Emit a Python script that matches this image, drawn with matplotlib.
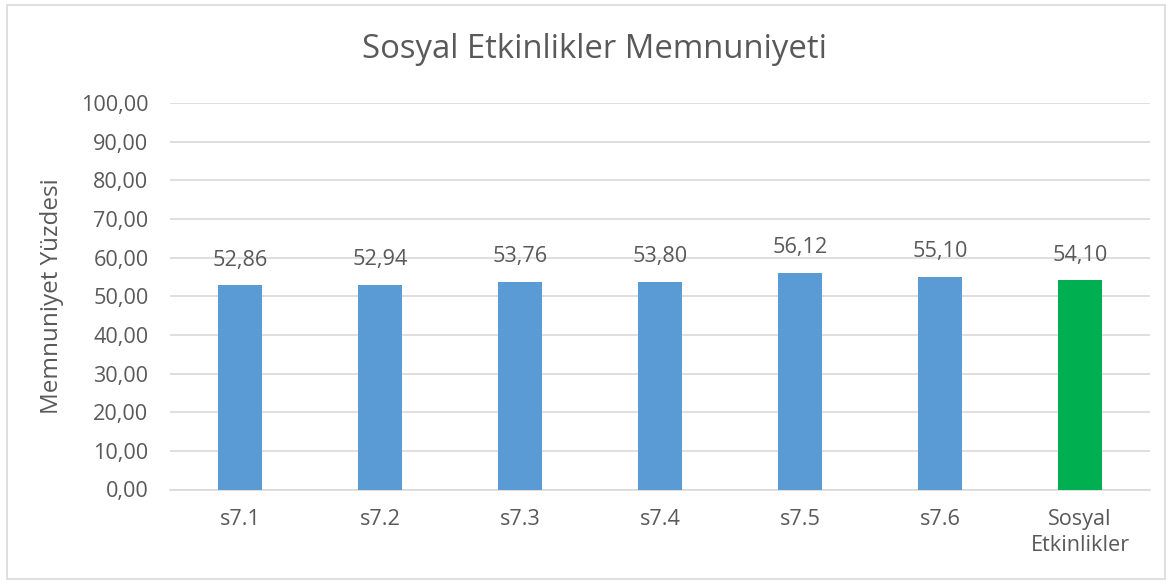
import matplotlib
matplotlib.use("Agg")
import matplotlib.pyplot as plt
from matplotlib.patches import Rectangle

categories = ["s7.1", "s7.2", "s7.3", "s7.4", "s7.5", "s7.6", "Sosyal\nEtkinlikler"]
values = [52.86, 52.94, 53.76, 53.80, 56.12, 55.10, 54.10]
colors = ["#5B9BD5"] * 6 + ["#00B050"]
yticks = [0, 10, 20, 30, 40, 50, 60, 70, 80, 90, 100]

TXT = "#595959"
FONT = "Open Sans"
FS = 15.6
plt.rcParams["font.family"] = [FONT, "DejaVu Sans"]

W, H = 1173, 581
fig = plt.figure(figsize=(W / 100, H / 100), dpi=100)
fig.patch.set_facecolor("white")

# outer chart border
fig.add_artist(Rectangle((7 / W, 1 - 579 / H), 1158 / W, 574 / H, transform=fig.transFigure,
                         fill=False, edgecolor="#D9D9D9", linewidth=1.2))

ax = fig.add_axes([170 / W, 1 - 489.5 / H, 980 / W, 386.5 / H])
x = list(range(len(categories)))
ax.bar(x, values, width=0.3135, color=colors, zorder=3)
ax.set_xlim(-0.5, len(categories) - 0.5)
ax.set_ylim(0, 100)
ax.set_yticks(yticks)
ax.set_yticklabels([f"{v:.2f}".replace(".", ",") for v in yticks], fontsize=FS, color=TXT)
ax.set_xticks(x)
ax.set_xticklabels(categories, fontsize=FS, color=TXT, linespacing=1.3)
ax.tick_params(axis="y", length=0, pad=15.5)
ax.tick_params(axis="x", length=0, pad=14)
ax.grid(axis="y", color="#D9D9D9", linewidth=1.2, zorder=0)
for s in ["top", "right", "left"]:
    ax.spines[s].set_visible(False)
ax.spines["bottom"].set_color("#D9D9D9")
ax.spines["bottom"].set_linewidth(1.2)

for xi, v in zip(x, values):
    ax.annotate(f"{v:.2f}".replace(".", ","), (xi, v), xytext=(0, 10.5), textcoords="offset points",
                ha="center", va="bottom", fontsize=FS, color=TXT)

ax.set_ylabel("Memnuniyet Yüzdesi", fontsize=17.5, color=TXT, va="center")
ax.yaxis.set_label_coords((52 - 170) / 980, 0.5)

fig.text(594 / W, 1 - 49 / H, "Sosyal Etkinlikler Memnuniyeti", ha="center", va="center",
         fontsize=23.7, color=TXT)

fig.savefig("out.png", dpi=100, facecolor="white")
